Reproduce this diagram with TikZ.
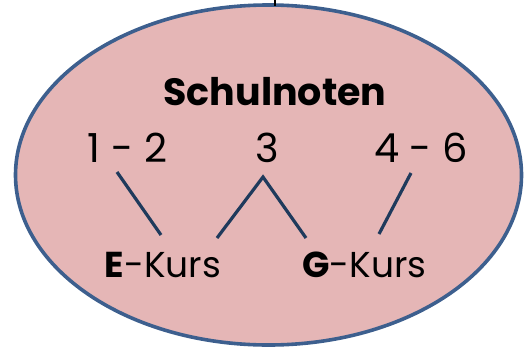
\documentclass[tikz,border=0pt]{standalone}
\usepackage{fontspec}
\usetikzlibrary{shapes.geometric}
\setmainfont{Poppins}
\definecolor{ellfill}{HTML}{E5B6B6}
\definecolor{elldraw}{HTML}{3D5F8E}
\definecolor{linkc}{HTML}{1F3A5C}
\begin{document}
\begin{tikzpicture}[x=1pt,y=-1pt,
  lbl/.style={anchor=base,inner sep=0pt,font=\fontsize{40}{40}\selectfont},
  kurs/.style={anchor=base,inner sep=0pt,font=\fontsize{36}{36}\selectfont},
  link/.style={draw=linkc,line width=3.2pt}]
\useasboundingbox (0,0) rectangle (524,348);
\coordinate (top) at (275,0);
\node[draw=elldraw,fill=ellfill,line width=3.6pt,ellipse,minimum width=506pt,minimum height=340pt,inner sep=0pt] (ell) at (268.5,175) {};
\draw[line width=2pt] (top) -- ++(0,6);
\node[lbl,font=\fontsize{38}{38}\selectfont\bfseries] (title) at (275,105) {Schulnoten};
\node[lbl] (g12) at (127.5,162) {1 - 2};
\node[lbl] (g3) at (267.5,162) {3};
\node[lbl] (g46) at (421,162) {4 - 6};
\node[kurs] (ek) at (163,277) {\textbf{E}-Kurs};
\node[kurs] (gk) at (364.5,277) {\textbf{G}-Kurs};
\coordinate (a1) at (117,172);
\coordinate (a2) at (161,235);
\coordinate (b1) at (217,238);
\coordinate (b2) at (263,177);
\coordinate (b3) at (306,238);
\coordinate (c1) at (411,173);
\coordinate (c2) at (379,234);
\draw[link] (a1) -- (a2);
\draw[link] (b1) -- (b2) -- (b3);
\draw[link] (c1) -- (c2);
\end{tikzpicture}
\end{document}
